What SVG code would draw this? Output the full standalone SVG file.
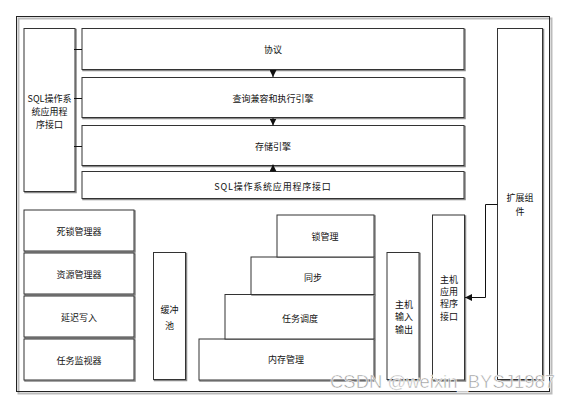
<svg xmlns="http://www.w3.org/2000/svg" width="570" height="401" viewBox="0 0 570 401">
<defs>
<style>
.b{fill:#fff;stroke:#333;stroke-width:1}
.s{fill:none;stroke:#888;stroke-width:1.5}
.t{font-family:"Noto Sans CJK SC","Noto Sans",sans-serif;font-size:9px;fill:#111;text-anchor:middle;dominant-baseline:central}
.c{fill:none;stroke:#111;stroke-width:1}
</style>
<marker id="ah" viewBox="0 0 8 8" refX="8" refY="4" markerWidth="7" markerHeight="7" markerUnits="userSpaceOnUse" orient="auto"><path d="M0,0L8,4L0,8z" fill="#111"/></marker>
</defs>
<rect width="570" height="401" fill="#fff"/>
<g id="frame">
<rect x="18.5" y="18.5" width="533" height="375" fill="none" stroke="#bbb" stroke-width="2"/>
<rect x="16.5" y="16.5" width="533" height="375" fill="none" stroke="#222" stroke-width="1"/>
</g>
<g id="sql-api-left"><rect class="s" x="25" y="29.5" width="51" height="163"/><rect class="b" x="24" y="28.5" width="51" height="163"/>
<text class="t" x="49.5" y="98">SQL操作系</text><text class="t" x="49.5" y="111">统应用程</text><text class="t" x="49.5" y="124.5">序接口</text></g>
<g id="protocol"><rect class="s" x="83" y="29.5" width="382" height="41"/><rect class="b" x="82" y="28.5" width="382" height="41"/><text class="t" x="273" y="49">协议</text></g>
<g id="query"><rect class="s" x="83" y="78.5" width="382" height="40"/><rect class="b" x="82" y="77.5" width="382" height="40"/><text class="t" x="273" y="98">查询兼容和执行引擎</text></g>
<g id="storage"><rect class="s" x="83" y="126.5" width="382" height="40"/><rect class="b" x="82" y="125.5" width="382" height="40"/><text class="t" x="273" y="146">存储引擎</text></g>
<g id="sql-api"><rect class="s" x="83" y="172.5" width="382" height="27"/><rect class="b" x="82" y="171.5" width="382" height="27"/><text class="t" x="273" y="186" letter-spacing="0.8">SQL操作系统应用程序接口</text></g>
<g id="ext"><rect class="s" x="498.5" y="29.5" width="45" height="351"/><rect class="b" x="497.5" y="28.5" width="45" height="351"/><text class="t" x="520" y="197.5">扩展组</text><text class="t" x="520" y="211.5">件</text></g>
<g id="deadlock"><rect class="s" x="25" y="211" width="110" height="41"/><rect class="b" x="24" y="210" width="110" height="41"/><text class="t" x="79" y="231">死锁管理器</text></g>
<g id="resource"><rect class="s" x="25" y="254" width="110" height="41"/><rect class="b" x="24" y="253" width="110" height="41"/><text class="t" x="79" y="274">资源管理器</text></g>
<g id="delaywrite"><rect class="s" x="25" y="297" width="110" height="41"/><rect class="b" x="24" y="296" width="110" height="41"/><text class="t" x="79" y="317">延迟写入</text></g>
<g id="monitor"><rect class="s" x="25" y="340" width="110" height="41"/><rect class="b" x="24" y="339" width="110" height="41"/><text class="t" x="79" y="360">任务监视器</text></g>
<g id="buffer"><rect class="s" x="154.5" y="253.5" width="32" height="127"/><rect class="b" x="153.5" y="252.5" width="32" height="127"/><text class="t" x="169.5" y="309.5">缓冲</text><text class="t" x="169.5" y="325">池</text></g>
<g id="memory"><rect class="s" x="200" y="340" width="175" height="41"/><rect class="b" x="199" y="339" width="175" height="41"/><text class="t" x="286" y="359">内存管理</text></g>
<g id="schedule"><rect class="s" x="226" y="295" width="149" height="44"/><rect class="b" x="225" y="294.5" width="149" height="44.5"/><text class="t" x="300" y="318">任务调度</text></g>
<g id="sync"><rect class="s" x="252" y="258" width="123" height="37"/><rect class="b" x="251" y="257" width="123" height="37.5"/><text class="t" x="313" y="277">同步</text></g>
<g id="lock"><rect class="s" x="278" y="216" width="97" height="41"/><rect class="b" x="277" y="215" width="97" height="42"/><text class="t" x="325" y="236">锁管理</text></g>
<g id="host-io"><rect class="s" x="388" y="253.5" width="32" height="127"/><rect class="b" x="387" y="252.5" width="32" height="127"/><text class="t" x="404" y="304">主机</text><text class="t" x="404" y="316.7">输入</text><text class="t" x="404" y="329.7">输出</text></g>
<g id="host-api"><rect class="s" x="433.5" y="216" width="32" height="165"/><rect class="b" x="432.5" y="215" width="32" height="165"/><text class="t" x="449" y="279">主机</text><text class="t" x="449" y="291">应用</text><text class="t" x="449" y="303.5">程序</text><text class="t" x="449" y="316.5">接口</text></g>
<g id="connectors">
<path class="c" d="M74,49.5H82M74,98.5H82M74,146.5H82"/>
<path class="c" d="M273,70V77" marker-end="url(#ah)"/>
<path class="c" d="M273,118V125.5" marker-end="url(#ah)"/>
<path class="c" d="M273,171.5V164.5" marker-end="url(#ah)"/>
<path class="c" d="M497.5,204.5H485.5V297.5H465" marker-end="url(#ah)"/>
</g>
<text x="330" y="388" font-family="'Liberation Sans',Arial,sans-serif" font-size="19" fill="#8c8c8c" fill-opacity="0.85" stroke="#fff" stroke-width="0.6" textLength="225" lengthAdjust="spacingAndGlyphs">CSDN @weixin_BYSJ1987</text>
</svg>
